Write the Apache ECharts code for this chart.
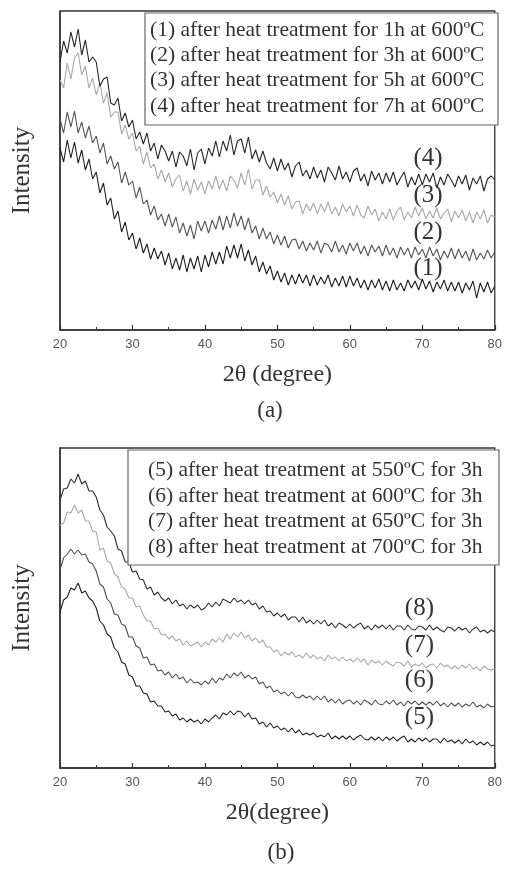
<!DOCTYPE html>
<html><head><meta charset="utf-8">
<script src="https://cdn.jsdelivr.net/npm/echarts@6/dist/echarts.min.js"></script>
<style>html,body{margin:0;padding:0;background:#fff}#c{width:505px;height:870px}</style>
</head><body><div id="c"></div>
<script>
// 2θ sampling grid (degrees), 20..80 step 0.5
const theta = [];
for (let i = 0; i <= 120; i++) theta.push(20 + i * 0.5);
const xTicks = [20, 30, 40, 50, 60, 70, 80];

// Panel (a) – intensities (arbitrary units)
const s1 = [182,168,190,172,188,167,180,160,171,151, 158,137,147,125,132,111,119,98,108,90, 97,81,92,77,86,71,82,71,79,65, 77,61,72,60,75,58,72,61,74,58, 75,63,78,66,78,66,84,72,85,72, 86,69,80,65,74,58,68,56,64,50, 59,48,57,45,55,46,56,47,55,44, 55,45,53,46,55,43,52,44,54,43, 54,44,52,42,50,40,50,42,51,40, 49,39,50,40,47,39,50,42,49,40, 51,41,49,38,48,41,50,39,48,39, 48,37,47,40,49,32,47,38,48,37, 44];
const s2 = [211,197,218,203,219,197,208,192,204,187, 194,177,187,166,174,161,168,147,158,145, 149,132,143,126,130,115,124,110,116,104, 116,103,113,97,107,94,105,91,109,99, 109,97,110,101,114,100,114,102,117,104, 114,100,112,97,104,91,102,91,98,86, 95,85,94,82,90,91,81,89,79,87, 80,89,77,87,85,78,89,78,85,76, 87,79,87,76,84,74,85,78,84,74, 85,75,82,72,83,75,82,72,83,75, 81,72,83,74,81,70,79,72,82,71, 81,72,79,69,81,70,77,71,80,72, 78];
const s3 = [250,242,267,251,272,277,255,264,242,252, 235,247,227,237,213,218,218,196,205,191, 197,179,184,166,178,162,166,151,160,148, 157,143,151,155,139,149,136,151,140,148, 136,149,141,154,141,150,139,154,150,142, 157,145,161,141,150,150,135,144,133,138, 127,136,125,134,121,128,129,116,126,119, 127,116,126,118,128,116,123,114,126,118, 124,114,125,115,112,124,115,121,109,118, 111,121,110,119,123,110,118,112,123,114, 122,111,119,112,122,111,117,121,108,119, 112,120,109,118,107,118,111,120,107,115, 113];
const s4 = [268,289,277,298,283,301,275,290,268,273, 268,244,251,253,227,225,232,209,217,203, 210,191,198,186,197,179,187,171,185,179, 169,179,163,178,174,164,181,160,177,181, 166,182,174,189,173,189,179,195,175,189, 191,177,193,171,180,168,179,167,161,172, 159,171,160,167,153,164,168,154,160,151, 163,152,160,148,163,157,150,164,151,158, 148,159,162,149,156,144,159,150,157,146, 157,148,158,145,152,158,143,153,145,156, 145,156,148,157,142,153,145,156,150,143, 154,146,155,140,152,146,154,139,151,154, 150];

// Panel (b) – intensities (arbitrary units)
const s5 = [156,168,171,180,178,185,175,177,170,167, 160,147,143,134,131,120,116,106,104,93, 91,82,82,75,74,66,67,62,62,56, 57,52,54,48,50,46,49,46,48,44, 49,46,50,53,49,55,53,57,53,57, 56,51,55,49,50,44,46,41,45,40, 42,38,40,36,40,35,38,33,35,33, 35,31,33,31,35,29,32,29,32,29, 32,28,31,33,29,28,31,28,31,27, 31,28,31,27,30,32,26,29,26,30, 27,30,26,29,29,25,30,26,28,25, 28,24,29,25,27,23,26,23,26,22, 23];
const s6 = [198,210,214,219,214,218,213,214,206,204, 197,184,181,169,165,154,153,144,142,131, 131,122,120,110,111,103,104,97,98,93, 96,90,94,89,91,85,89,85,86,83, 87,84,90,85,90,88,94,90,95,92, 96,90,93,89,91,84,86,80,82,76, 78,74,76,72,76,71,70,73,70,72, 68,72,68,72,66,69,65,69,64,67, 68,64,67,63,68,66,63,68,64,63, 67,64,68,63,66,62,67,64,67,63, 66,63,66,63,67,62,65,61,65,62, 65,61,64,62,66,61,63,60,64,61, 62];
const s7 = [243,245,256,255,263,255,258,247,247,237, 236,218,220,207,205,194,191,181,179,170, 170,161,162,153,147,147,139,140,133,134, 129,132,127,129,123,127,122,124,126,121, 126,123,129,126,130,126,134,129,135,131, 136,130,133,127,130,125,128,121,121,116, 118,112,116,113,116,111,113,110,115,110, 113,109,111,107,113,109,111,107,111,107, 109,106,110,106,109,103,108,105,107,103, 107,104,102,106,105,102,107,101,104,102, 105,100,103,104,100,105,101,103,99,102, 99,103,100,104,99,101,97,102,99,98, 99];
const s8 = [268,279,280,289,285,294,284,287,277,277, 271,258,253,241,237,232,219,217,206,206, 196,197,189,188,179,181,173,176,170,167, 170,164,168,162,164,159,163,160,163,158, 160,165,161,166,162,169,167,165,170,166, 168,164,168,163,165,159,162,156,157,152, 155,151,154,148,151,151,146,151,145,148, 144,148,144,148,142,145,140,145,143,140, 144,140,143,145,139,142,138,143,140,143, 139,143,138,142,142,138,143,139,138,142, 141,138,143,138,141,138,136,141,140,137, 141,138,140,135,139,141,136,138,135,138, 136];

const legendA = ['(1) after heat treatment for 1h at 600ºC','(2) after heat treatment for 3h at 600ºC','(3) after heat treatment for 5h at 600ºC','(4) after heat treatment for 7h at 600ºC'];
const legendB = ['(5) after heat treatment at 550ºC for 3h','(6) after heat treatment at 600ºC for 3h','(7) after heat treatment at 650ºC for 3h','(8) after heat treatment at 700ºC for 3h'];
const curveTags = ['(1)','(2)','(3)','(4)','(5)','(6)','(7)','(8)'];
const tagPos = [[70.8,62],[70.8,98],[70.8,135],[70.8,172],[69.6,51],[69.6,88],[69.6,123],[69.6,160]];

const SERIF = 'Liberation Serif, Times New Roman, serif';
const chart = echarts.init(document.getElementById('c'), null, {renderer:'canvas'});

function xAxisFor(gi, name){
  return {
    gridIndex: gi, type:'value', min:20, max:80, interval:10,
    name: name, nameLocation:'middle', nameGap: 33,
    nameTextStyle:{fontFamily:SERIF, fontSize:24, color:'#333'},
    axisLine:{show:true, lineStyle:{color:'#333', width:1.5}},
    axisTick:{show:true, inside:true, length:5, lineStyle:{color:'#333', width:1.2}},
    minorTick:{show:true, splitNumber:2, length:3, lineStyle:{color:'#333', width:1}},
    axisLabel:{fontFamily:'Liberation Sans, Arial, sans-serif', fontSize:13, color:'#555', margin:8},
    splitLine:{show:false}, minorSplitLine:{show:false}
  };
}
function yAxisFor(gi, max){
  return {
    gridIndex: gi, type:'value', min:0, max:max,
    name:'Intensity', nameLocation:'middle', nameRotate:90, nameGap: 25,
    nameTextStyle:{fontFamily:SERIF, fontSize:25, color:'#333'},
    axisLine:{show:true, lineStyle:{color:'#333', width:1.5}},
    axisTick:{show:false}, axisLabel:{show:false}, splitLine:{show:false}
  };
}
function mk(name, data, gi, color, idx){
  return {
    name:name, type:'line', xAxisIndex:gi, yAxisIndex:gi,
    data: theta.map((t,i)=>[t, data[i]]),
    showSymbol:false, symbol:'none', animation:false,
    lineStyle:{color:color, width:1.1}, itemStyle:{color:color},
    markPoint:{symbol:'circle', symbolSize:0, animation:false,
      data:[{coord:tagPos[idx]}],
      label:{show:true, position:'inside', formatter:curveTags[idx], fontFamily:SERIF, fontSize:25, color:'#333'}}
  };
}

function legendBox(x, y, w, h, tx, lines, ys){
  const els = [{type:'rect', shape:{x:x, y:y, width:w, height:h}, style:{fill:'#fff', stroke:'#666', lineWidth:1.2}, z:10}];
  lines.forEach((t,i)=>{
    els.push({type:'text', x:tx, y:ys[i], z:11, style:{text:t, font:'21.5px ' + SERIF, fill:'#333', textVerticalAlign:'middle', verticalAlign:'middle'}});
  });
  return els;
}

const option = {
  backgroundColor:'#fff',
  animation:false,
  grid:[
    {left:60, top:11, width:439, height:319, show:true, borderColor:'#333', borderWidth:1.3},
    {left:60, top:448, width:439, height:320, show:true, borderColor:'#333', borderWidth:1.3}
  ],
  xAxis:[xAxisFor(0,'2θ (degree)'), xAxisFor(1,'2θ(degree)')],
  yAxis:[yAxisFor(0,319), yAxisFor(1,320)],
  series:[
    mk(legendA[0], s1, 0, '#1e1e1e', 0),
    mk(legendA[1], s2, 0, '#555555', 1),
    mk(legendA[2], s3, 0, '#a8a8a8', 2),
    mk(legendA[3], s4, 0, '#262626', 3),
    mk(legendB[0], s5, 1, '#222222', 4),
    mk(legendB[1], s6, 1, '#505050', 5),
    mk(legendB[2], s7, 1, '#a8a8a8', 6),
    mk(legendB[3], s8, 1, '#303030', 7)
  ],
  graphic:[
    ...legendBox(145, 13, 353, 112, 150, legendA, [30,55,80,106]),
    ...legendBox(128, 450, 371, 115, 148, legendB, [470,496,521,547]),
    {type:'text', x:270, y:411, style:{text:'(a)', font:'23px ' + SERIF, fill:'#333', textAlign:'center', textVerticalAlign:'middle', align:'center', verticalAlign:'middle'}},
    {type:'text', x:281, y:853, style:{text:'(b)', font:'23px ' + SERIF, fill:'#333', textAlign:'center', textVerticalAlign:'middle', align:'center', verticalAlign:'middle'}}
  ]
};
chart.setOption(option);
</script></body></html>
